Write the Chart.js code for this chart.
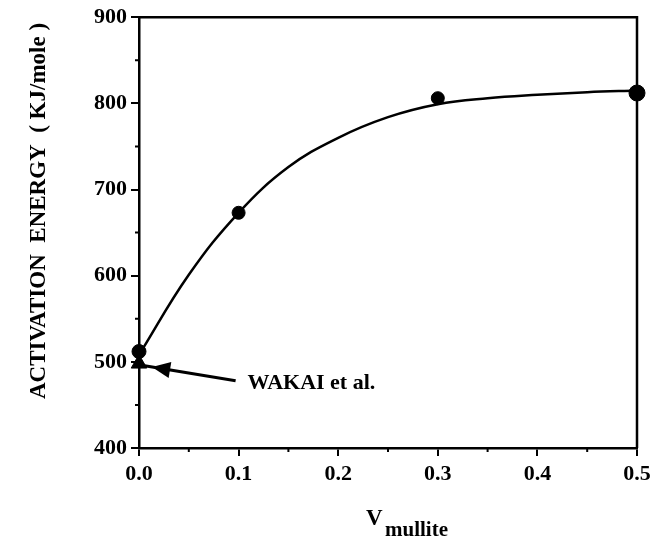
<!DOCTYPE html>
<html>
<head>
<meta charset="utf-8">
<script src="https://cdn.jsdelivr.net/npm/chart.js@4"></script>
<style>
  html, body { margin: 0; padding: 0; background: #fff; }
  #wrap { width: 657px; height: 538px; position: relative; }
</style>
</head>
<body>
<div id="wrap"><canvas id="c"></canvas></div>
<script>
// measured points (V mullite vs activation energy)
const vMullite = [0.0, 0.1, 0.3, 0.5];
const energy = [512, 673, 806, 812];
// Wakai et al. reference value
const wakaiV = [0.0];
const wakaiE = [498];
// hand-drawn fit curve
const fitV = [0, 0.05, 0.1, 0.15, 0.2, 0.25, 0.3, 0.35, 0.4, 0.45, 0.5];
const fitE = [508, 601, 673, 726, 760, 784, 799, 806, 810, 813, 815];
const xTicks = [0, 0.1, 0.2, 0.3, 0.4, 0.5];
const yTicks = [400, 500, 600, 700, 800, 900];

const FONT = '"Liberation Serif", "Times New Roman", serif';
const INK = '#000';

const pts = (xs, ys) => xs.map((x, i) => ({ x, y: ys[i] }));

// frame, minor ticks, titles, arrow note
const decor = {
  id: 'decor',
  afterDraw(chart) {
    const { ctx, chartArea: a, scales: { x, y } } = chart;
    ctx.save();
    ctx.strokeStyle = INK;
    ctx.lineWidth = 2.5;
    ctx.beginPath();
    ctx.moveTo(a.left, a.top); ctx.lineTo(a.right, a.top); ctx.lineTo(a.right, a.bottom);
    ctx.stroke();

    ctx.lineWidth = 2;
    ctx.beginPath();
    for (let v = 0.05; v < 0.5; v += 0.1) {
      const px = x.getPixelForValue(v);
      ctx.moveTo(px, a.bottom); ctx.lineTo(px, a.bottom + 4);
    }
    for (let v = 450; v < 900; v += 100) {
      const py = y.getPixelForValue(v);
      ctx.moveTo(a.left, py); ctx.lineTo(a.left - 4, py);
    }
    ctx.stroke();

    // y title
    ctx.fillStyle = INK;
    ctx.font = 'bold 23px ' + FONT;
    ctx.textAlign = 'center';
    ctx.textBaseline = 'middle';
    ctx.save();
    ctx.translate(39, 211);
    ctx.rotate(-Math.PI / 2);
    ctx.fillText('ACTIVATION  ENERGY  ( KJ/mole )', 0, 0);
    ctx.restore();

    // x title with subscript
    ctx.textAlign = 'left';
    ctx.textBaseline = 'alphabetic';
    ctx.font = 'bold 23px ' + FONT;
    ctx.fillText('V', 366, 525);
    ctx.font = 'bold 21px ' + FONT;
    ctx.fillText('mullite', 385, 536);

    // arrow to Wakai point
    const tx = x.getPixelForValue(0.013), ty = y.getPixelForValue(494);
    const sx = x.getPixelForValue(0.097), sy = y.getPixelForValue(478);
    const ang = Math.atan2(ty - sy, tx - sx);
    ctx.lineWidth = 3;
    ctx.beginPath();
    ctx.moveTo(sx, sy);
    ctx.lineTo(tx + 12 * Math.cos(ang), ty + 12 * Math.sin(ang));
    ctx.stroke();
    ctx.beginPath();
    ctx.moveTo(tx, ty);
    ctx.lineTo(tx - 20 * Math.cos(ang - 0.42), ty - 20 * Math.sin(ang - 0.42));
    ctx.lineTo(tx - 20 * Math.cos(ang + 0.42), ty - 20 * Math.sin(ang + 0.42));
    ctx.closePath();
    ctx.fill();

    ctx.font = 'bold 22px ' + FONT;
    ctx.textBaseline = 'middle';
    ctx.fillText('WAKAI et al.', x.getPixelForValue(0.109), y.getPixelForValue(475));
    ctx.restore();
  }
};

new Chart(document.getElementById('c'), {
  type: 'scatter',
  data: {
    datasets: [
      {
        type: 'line',
        data: pts(fitV, fitE),
        borderColor: INK,
        borderWidth: 2.5,
        pointRadius: 0,
        tension: 0.4,
        fill: false,
        clip: false,
      },
      {
        data: pts(vMullite, energy),
        backgroundColor: INK,
        borderColor: INK,
        pointRadius: [7, 6.5, 6.5, 8],
        clip: false,
      },
      {
        data: pts(wakaiV, wakaiE),
        pointStyle: 'triangle',
        backgroundColor: INK,
        borderColor: INK,
        pointRadius: 9,
        clip: false,
      },
    ],
  },
  options: {
    responsive: true,
    maintainAspectRatio: false,
    animation: false,
    layout: { padding: { top: 16, right: 20, left: 0, bottom: 0 } },
    plugins: { legend: { display: false }, tooltip: { enabled: false } },
    scales: {
      x: {
        type: 'linear',
        min: 0, max: 0.5,
        afterBuildTicks: s => { s.ticks = xTicks.map(v => ({ value: v })); },
        afterFit: s => { s.height = 90; },
        border: { color: INK, width: 2.5 },
        grid: { drawOnChartArea: false, color: INK, lineWidth: 2, tickLength: 8 },
        ticks: {
          color: INK, padding: 5,
          font: { family: FONT, size: 22, weight: 'bold' },
          callback: v => v.toFixed(1),
        },
      },
      y: {
        min: 400, max: 900,
        afterBuildTicks: s => { s.ticks = yTicks.map(v => ({ value: v })); },
        afterFit: s => { s.width = 139; },
        border: { color: INK, width: 2.5 },
        grid: { drawOnChartArea: false, color: INK, lineWidth: 2, tickLength: 8 },
        ticks: {
          color: INK, padding: 4,
          font: { family: FONT, size: 22, weight: 'bold' },
        },
      },
    },
  },
  plugins: [decor],
});
</script>
</body>
</html>
